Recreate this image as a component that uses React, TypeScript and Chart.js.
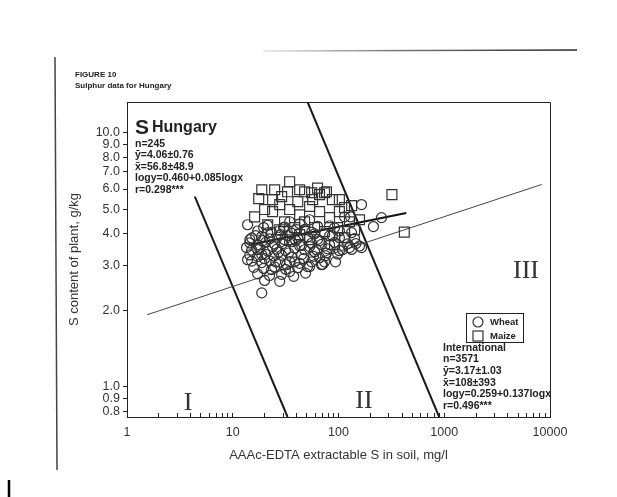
import { useEffect, useRef } from 'react';
import { Chart, registerables } from 'chart.js';

Chart.register(...registerables);

// ---- Data ----
const wheatX = [
  21.4, 30.9, 42.9, 63.4, 91.7,
  17.2, 23.3, 27.8, 36.1, 47.8, 55.7, 73.8, 102, 133,
  15.1, 18.8, 22.3, 26.6, 33.0, 41.2, 51.0, 63.4, 82.3, 114, 142,
  14.5, 17.2, 20.5, 24.9, 29.6, 36.1, 44.8, 55.7, 69.1, 91.7, 122, 158,
  15.1, 18.0, 21.4, 26.1, 31.6, 38.5, 47.8, 59.4, 78.8, 102, 133,
  14.5, 17.2, 20.5, 24.4, 29.0, 36.1, 44.8, 58.1, 75.4, 98.3,
  15.1, 18.8, 22.3, 27.8, 34.5, 42.9, 55.7, 69.1,
  15.8, 19.6, 24.9, 31.6, 41.2, 53.3,
  17.2, 22.3, 29.0, 37.7, 48.8,
  20.0, 27.8,
  19.2, 23.8, 28.4, 33.7, 39.4, 46.8, 53.3, 66.2, 77.0, 87.5, 20.0, 32.3, 40.3, 59.4, 109, 146, 17.2, 25.5, 66.2, 93.7,
  34.5, 53.3, 82.3, 114, 130,
  16.5, 21.4, 30.9, 42.9, 62.0, 18.8, 27.2, 38.5, 51.0, 23.3, 34.5, 13.8, 14.5, 82.3, 102, 73.8, 47.8, 30.2, 19.6, 13.5,
  13.8, 18.8, 165, 255, 214, 165, 127, 70.6,
];
const wheatY = [
  4.32, 4.25, 4.38, 4.28, 4.22,
  4.10, 4.05, 4.12, 4.02, 4.15, 4.06, 4.00, 4.10, 4.04,
  3.85, 3.90, 3.82, 3.88, 3.93, 3.84, 3.89, 3.80, 3.92, 3.86, 3.83,
  3.68, 3.62, 3.70, 3.64, 3.66, 3.72, 3.60, 3.67, 3.63, 3.70, 3.65, 3.58,
  3.45, 3.50, 3.42, 3.48, 3.44, 3.51, 3.46, 3.40, 3.49, 3.43, 3.47,
  3.30, 3.25, 3.32, 3.27, 3.29, 3.24, 3.31, 3.26, 3.28, 3.33,
  3.12, 3.08, 3.13, 3.09, 3.11, 3.06, 3.10, 3.02,
  2.95, 2.92, 2.96, 2.90, 2.94, 2.97,
  2.78, 2.74, 2.77, 2.72, 2.80,
  2.62, 2.60,
  3.76, 3.56, 3.97, 3.36, 3.76, 3.19, 3.56, 3.76, 3.36, 3.93, 3.19, 3.02, 4.15, 4.00, 3.46, 3.66, 3.46, 3.10, 3.22, 3.10,
  4.46, 4.54, 4.30, 4.66, 4.66,
  3.93, 4.04, 3.79, 3.59, 3.46, 3.31, 3.39, 3.10, 2.97, 2.89, 2.84, 3.16, 3.79, 3.62, 3.86, 3.10, 4.15, 4.23, 4.23, 3.53,
  4.34, 2.34, 5.21, 4.63, 4.27, 3.53, 3.53, 3.03,
];
const maizeX = [
  18.8, 24.9, 34.5, 33.0, 47.8, 55.7, 66.2, 73.8,
  23.8, 41.2, 56.9, 16.1, 23.8, 77, 87.5, 320,
  114, 419, 27.8, 34.5, 42.9, 53.3, 66.2, 82.3,
  102, 127, 30.9, 38.5, 47.8, 59.4, 73.8, 98,
  27.8, 21.4, 42.9, 114, 142, 34.5, 53.3, 91.7,
  17.6, 29.0, 63.4, 42.9, 102, 133, 158, 20.0,
];
const maizeY = [
  5.96, 5.96, 6.41, 5.85, 5.85, 5.80, 5.70, 5.80,
  5.45, 5.35, 5.45, 4.66, 4.89, 5.85, 5.45, 5.70,
  5.07, 4.06, 5.21, 4.98, 4.75, 5.12, 4.89, 4.63,
  4.89, 4.46, 4.46, 4.23, 4.46, 4.23, 4.08, 4.23,
  4.15, 4.34, 3.97, 3.86, 4.15, 3.79, 3.79, 3.62,
  5.50, 5.60, 6.05, 5.96, 5.45, 5.16, 4.54, 4.98,
];

// regression lines and zone boundaries (end points)
const intlLineX = [1.55, 8350];
const intlLineY = [1.92, 6.25];
const hunLineX = [14.5, 437];
const hunLineY = [3.62, 4.83];
const zoneI_X = [4.38, 33.0];
const zoneI_Y = [5.6, 0.76];
const zoneII_X = [51, 895];
const zoneII_Y = [13.2, 0.76];

// axes
const xMin = 1;
const xMax = 10000;
const yMin = 0.76;
const yMax = 13.2;
const xMajorTicks = [1, 10, 100, 1000, 10000];
const xMajorLabels = ['1', '10', '100', '1000', '10000'];
const xMinorTicks = [
  2, 3, 4, 5, 6, 7, 8, 9,
  20, 30, 40, 50, 60, 70, 80, 90,
  200, 300, 400, 500, 600, 700, 800, 900,
  2000, 3000, 4000, 5000, 6000, 7000, 8000, 9000,
];
const yTicks = [0.8, 0.9, 1, 2, 3, 4, 5, 6, 7, 8, 9, 10];
const yTickLabels = ['0.8', '0.9', '1.0', '2.0', '3.0', '4.0', '5.0', '6.0', '7.0', '8.0', '9.0', '10.0'];

// texts
const figureNumber = 'FIGURE 10';
const figureCaption = 'Sulphur data for Hungary';
const xTitle = 'AAAc-EDTA extractable S in soil, mg/l';
const yTitle = 'S content of plant, g/kg';
const hungaryHead = ['S', 'Hungary'];
const hungaryStats = ['n=245', 'ȳ=4.06±0.76', 'x̄=56.8±48.9', 'logy=0.460+0.085logx', 'r=0.298***'];
const intlStats = ['International', 'n=3571', 'ȳ=3.17±1.03', 'x̄=108±393', 'logy=0.259+0.137logx', 'r=0.496***'];
const zoneLabels = ['I', 'II', 'III'];

const SANS = "'Liberation Sans', Arial, Helvetica, sans-serif";
const SERIF = "'Liberation Serif', 'Times New Roman', serif";
const INK = '#222';

const toPts = (xs: number[], ys: number[]) => xs.map((x, i) => ({ x, y: ys[i] }));

const decorPlugin = {
  id: 'decor',
  afterDraw(chart: any) {
    const ctx = chart.ctx as CanvasRenderingContext2D;
    const a = chart.chartArea;
    ctx.save();

    // plot frame (top + right; axes draw bottom + left)
    ctx.strokeStyle = INK;
    ctx.lineWidth = 1;
    ctx.beginPath();
    ctx.moveTo(Math.round(a.left) + 0.5, Math.round(a.top) + 0.5);
    ctx.lineTo(Math.round(a.right) + 0.5, Math.round(a.top) + 0.5);
    ctx.lineTo(Math.round(a.right) + 0.5, Math.round(a.bottom) + 0.5);
    ctx.stroke();

    // page rules
    ctx.strokeStyle = '#444';
    ctx.lineWidth = 1.5;
    ctx.beginPath();
    ctx.moveTo(55, 57);
    ctx.lineTo(57, 470);
    ctx.stroke();
    const g = ctx.createLinearGradient(263, 0, 577, 0);
    g.addColorStop(0, 'rgba(120,120,120,0.2)');
    g.addColorStop(0.4, 'rgba(90,90,90,0.8)');
    g.addColorStop(1, 'rgba(40,40,40,1)');
    ctx.strokeStyle = g;
    ctx.lineWidth = 1.5;
    ctx.beginPath();
    ctx.moveTo(263, 51);
    ctx.lineTo(577, 50);
    ctx.stroke();
    ctx.strokeStyle = '#000';
    ctx.lineWidth = 2.5;
    ctx.beginPath();
    ctx.moveTo(9, 480);
    ctx.lineTo(9, 497);
    ctx.stroke();

    // figure title
    ctx.fillStyle = INK;
    ctx.textAlign = 'left';
    ctx.textBaseline = 'middle';
    ctx.font = `bold 8px ${SANS}`;
    ctx.fillText(figureNumber, 75, 75);
    ctx.fillText(figureCaption, 75, 86);

    // Hungary block
    const hx = a.left + 8;
    ctx.font = `bold 21px ${SANS}`;
    ctx.fillText(hungaryHead[0], hx, a.top + 26);
    ctx.font = `bold 16px ${SANS}`;
    ctx.fillText(hungaryHead[1], hx + 17, a.top + 26);
    ctx.font = `bold 10.5px ${SANS}`;
    hungaryStats.forEach((t, i) => ctx.fillText(t, hx, a.top + 42 + i * 11.5));

    // International block
    const ix = a.left + 316;
    intlStats.forEach((t, i) => ctx.fillText(t, ix, a.top + 246 + i * 11.6));

    // zone labels
    ctx.font = `26px ${SERIF}`;
    ctx.textAlign = 'center';
    ctx.fillStyle = '#333';
    ctx.fillText(zoneLabels[0], 188, 403);
    ctx.fillText(zoneLabels[1], 364, 401);
    ctx.fillText(zoneLabels[2], 526, 271);

    // legend box
    const lx = 466, ly = 313, lw = 57, lh = 29;
    ctx.strokeStyle = INK;
    ctx.lineWidth = 1;
    ctx.fillStyle = '#fff';
    ctx.fillRect(lx, ly, lw, lh);
    ctx.strokeRect(lx + 0.5, ly + 0.5, lw, lh);
    const ds = chart.data.datasets;
    ctx.lineWidth = 1.2;
    ctx.strokeStyle = '#333';
    ctx.beginPath();
    ctx.arc(478, 322, 5, 0, Math.PI * 2);
    ctx.stroke();
    ctx.strokeRect(473, 331, 10, 10);
    ctx.fillStyle = INK;
    ctx.textAlign = 'left';
    ctx.font = `bold 9.5px ${SANS}`;
    ctx.fillText(ds[0].label, 490, 322);
    ctx.fillText(ds[1].label, 490, 336);

    ctx.restore();
  },
};

export default function App() {
  const ref = useRef<HTMLCanvasElement>(null);

  useEffect(() => {
    if (!ref.current) return;
    const lineDs = (xs: number[], ys: number[], w: number, color: string) => ({
      label: '',
      data: toPts(xs, ys),
      showLine: true,
      borderColor: color,
      borderWidth: w,
      pointRadius: 0,
      pointHoverRadius: 0,
      fill: false,
    });
    const chart = new Chart(ref.current, {
      type: 'scatter',
      data: {
        datasets: [
          {
            label: 'Wheat',
            data: toPts(wheatX, wheatY),
            pointStyle: 'circle',
            pointRadius: 5,
            borderColor: '#333',
            backgroundColor: 'rgba(0,0,0,0)',
            borderWidth: 1.2,
          },
          {
            label: 'Maize',
            data: toPts(maizeX, maizeY),
            pointStyle: 'rect',
            pointRadius: 7,
            borderColor: '#333',
            backgroundColor: 'rgba(0,0,0,0)',
            borderWidth: 1.2,
          },
          lineDs(intlLineX, intlLineY, 1, '#444'),
          lineDs(hunLineX, hunLineY, 2, '#111'),
          lineDs(zoneI_X, zoneI_Y, 2, '#1a1a1a'),
          lineDs(zoneII_X, zoneII_Y, 2, '#1a1a1a'),
        ] as any,
      },
      options: {
        animation: false,
        responsive: false,
        devicePixelRatio: 1,
        layout: { padding: { left: 67, right: 67, top: 102, bottom: 34 } },
        plugins: {
          legend: { display: false },
          tooltip: { enabled: false },
          title: { display: false },
        },
        scales: {
          x: {
            type: 'logarithmic',
            min: xMin,
            max: xMax,
            bounds: 'data',
            afterBuildTicks: (s: any) => {
              s.ticks = [...xMajorTicks, ...xMinorTicks].sort((p, q) => p - q).map((v) => ({ value: v }));
            },
            afterFit: (s: any) => {
              s.height = 46;
            },
            ticks: {
              autoSkip: false,
              maxRotation: 0,
              padding: 12,
              color: '#333',
              font: { family: SANS, size: 12.5 },
              callback: (v: any) => {
                const i = xMajorTicks.indexOf(Number(v));
                return i >= 0 ? xMajorLabels[i] : '';
              },
            },
            grid: { display: true, drawOnChartArea: false, tickLength: -4, color: INK },
            border: { display: true, color: INK, width: 1 },
            title: {
              display: true,
              text: xTitle,
              color: '#333',
              padding: 0,
              font: { family: SANS, size: 13 },
            },
          },
          y: {
            type: 'logarithmic',
            min: yMin,
            max: yMax,
            bounds: 'data',
            afterBuildTicks: (s: any) => {
              s.ticks = yTicks.map((v) => ({ value: v }));
            },
            afterFit: (s: any) => {
              s.width = 60;
            },
            ticks: {
              autoSkip: false,
              padding: 3,
              color: '#333',
              font: { family: SANS, size: 12.5 },
              callback: (v: any) => {
                const i = yTicks.indexOf(Number(v));
                return i >= 0 ? yTickLabels[i] : '';
              },
            },
            grid: { display: true, drawOnChartArea: false, tickLength: 4, color: INK },
            border: { display: true, color: INK, width: 1 },
            title: {
              display: true,
              text: yTitle,
              color: '#333',
              padding: 0,
              font: { family: SANS, size: 13 },
            },
          },
        },
      } as any,
      plugins: [decorPlugin],
    });
    return () => chart.destroy();
  }, []);

  return (
    <div style={{ position: 'absolute', left: 0, top: 0, width: 617, height: 497, background: '#fff' }}>
      <canvas ref={ref} width={617} height={497} style={{ display: 'block' }} />
    </div>
  );
}
